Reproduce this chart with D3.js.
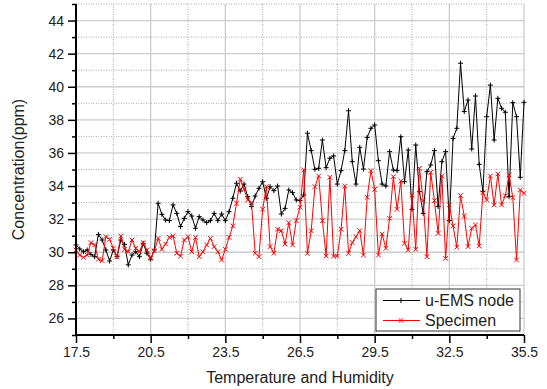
<!DOCTYPE html>
<html>
<head>
<meta charset="utf-8">
<script src="https://cdn.jsdelivr.net/npm/d3@7"></script>
<style>
	body { margin: 0; background: #fff; }
	text { font-family: "Liberation Sans", Arial, sans-serif; fill: #222; }
</style>
</head>
<body>
<svg id="svg" width="547" height="389"></svg>
<script>
"use strict";

// x positions: 17.5 -> 35.5, one reading every 0.15
const xStart = 17.5;
const xStep = 0.15;

const emsNode = [
	30.44, 30.2, 30.03, 30.14, 29.87, 29.73, 31.08, 30.74, 30.14, 29.47,
	30.14, 29.73, 30.74, 30.48, 29.24, 29.83, 30.03, 29.73, 30.54, 29.94,
	29.59, 30.14, 32.96, 32.29, 31.95, 31.91, 32.86, 32.35, 31.55, 32.05,
	32.45, 32.19, 31.45, 32.15, 31.95, 31.79, 31.91, 32.35, 31.91, 32.31,
	31.91, 32.45, 33.26, 34.17, 33.7, 34.12, 33.36, 32.76, 33.4, 33.86,
	34.26, 33.26, 33.96, 33.72, 34.0, 32.31, 32.65, 33.76, 33.6, 33.16,
	33.12, 33.46, 37.19, 36.14, 35.01, 35.07, 36.78, 35.11, 35.68, 35.82,
	34.12, 34.93, 36.14, 38.55, 35.47, 34.12, 36.34, 35.03, 36.94, 37.49,
	37.69, 35.53, 34.12, 34.0, 36.08, 34.97, 34.93, 36.98, 34.26, 36.18,
	32.59, 36.48, 33.66, 32.35, 34.87, 35.27, 36.14, 32.76, 35.47, 36.08,
	31.91, 36.88, 37.49, 41.42, 38.5, 39.2, 36.24, 39.44, 35.31, 33.66,
	38.19, 40.1, 36.78, 39.3, 38.7, 38.46, 33.36, 39.04, 38.19, 34.53,
	39.06
];

const specimen = [
	30.14, 29.83, 29.69, 29.83, 30.58, 30.44, 29.57, 29.49, 30.94, 30.78,
	30.24, 29.73, 30.98, 30.18, 30.03, 30.74, 30.24, 30.03, 30.58, 30.14,
	29.63, 30.09, 30.84, 30.18, 30.5, 30.9, 30.98, 29.94, 29.77, 30.74,
	30.94, 30.03, 30.9, 29.73, 30.03, 30.44, 30.84, 30.34, 30.03, 29.53,
	30.18, 30.9, 31.59, 32.96, 34.41, 33.8, 33.16, 33.0, 29.94, 29.73,
	32.6, 33.96, 30.34, 29.94, 31.39, 31.3, 30.5, 31.79, 30.44, 31.91,
	32.72, 34.97, 29.94, 31.3, 33.96, 34.61, 31.91, 29.77, 34.53, 29.77,
	29.77, 31.39, 34.0, 29.94, 30.58, 30.94, 31.3, 29.83, 33.32, 34.93,
	33.8, 29.83, 31.1, 30.24, 32.05, 34.57, 32.59, 34.3, 30.54, 30.14,
	33.46, 30.18, 35.07, 33.12, 29.73, 34.83, 33.12, 31.14, 34.61, 29.63,
	32.86, 31.59, 30.3, 33.42, 32.19, 30.34, 31.45, 31.65, 30.38, 33.6,
	33.16, 34.61, 32.86, 34.73, 32.86, 33.42, 34.67, 33.3, 29.53, 33.76,
	33.56
];

const xMajorTicks = [17.5, 20.5, 23.5, 26.5, 29.5, 32.5, 35.5];
const xMinorTicks = [19, 22, 25, 28, 31, 34];
const yMajorTicks = [26, 28, 30, 32, 34, 36, 38, 40, 42, 44];
const yMinorTicks = [25, 27, 29, 31, 33, 35, 37, 39, 41, 43, 45];

const seriesNames = ["u-EMS node", "Specimen"];
const seriesColors = ["#000000", "#ff0000"];

const margin = { top: 4, right: 23, bottom: 54, left: 76 };
const width = 547, height = 389;

const svg = d3.select("#svg");

const x = d3.scaleLinear().domain([17.5, 35.5]).range([margin.left, width - margin.right]);
const y = d3.scaleLinear().domain([25, 45]).range([height - margin.bottom, margin.top]);

// grid: dotted minor first, solid major on top
const grid = svg.append("g").attr("id", "grid");
grid.selectAll(".xminor").data(xMinorTicks).enter().append("line")
	.attr("x1", (d) => x(d)).attr("x2", (d) => x(d))
	.attr("y1", y(25)).attr("y2", y(45))
	.attr("stroke", "#a8a8a8").attr("stroke-dasharray", "1,1.5");
grid.selectAll(".yminor").data(yMinorTicks).enter().append("line")
	.attr("x1", x(17.5)).attr("x2", x(35.5))
	.attr("y1", (d) => y(d)).attr("y2", (d) => y(d))
	.attr("stroke", "#a8a8a8").attr("stroke-dasharray", "1,1.5");
grid.selectAll(".xmajor").data(xMajorTicks).enter().append("line")
	.attr("x1", (d) => x(d)).attr("x2", (d) => x(d))
	.attr("y1", y(25)).attr("y2", y(45))
	.attr("stroke", "#cccccc").attr("stroke-width", 1.3);
grid.selectAll(".ymajor").data(yMajorTicks).enter().append("line")
	.attr("x1", x(17.5)).attr("x2", x(35.5))
	.attr("y1", (d) => y(d)).attr("y2", (d) => y(d))
	.attr("stroke", "#cccccc").attr("stroke-width", 1.3);

// series
const line = d3.line()
	.x((d, i) => x(xStart + i * xStep))
	.y((d) => y(d));

function plusMarker() {
	return (sel) => {
		sel.append("line").attr("x1", -2.5).attr("x2", 2.5).attr("y1", 0).attr("y2", 0);
		sel.append("line").attr("x1", 0).attr("x2", 0).attr("y1", -2.5).attr("y2", 2.5);
	};
}
function crossMarker() {
	return (sel) => {
		sel.append("line").attr("x1", -2.3).attr("x2", 2.3).attr("y1", -2.3).attr("y2", 2.3);
		sel.append("line").attr("x1", -2.3).attr("x2", 2.3).attr("y1", 2.3).attr("y2", -2.3);
	};
}

[emsNode, specimen].forEach((data, k) => {
	const g = svg.append("g").attr("class", "series");
	g.append("path")
		.datum(data)
		.attr("d", line)
		.attr("fill", "none")
		.attr("stroke", seriesColors[k])
		.attr("stroke-width", 1);
	g.selectAll(".mk").data(data).enter().append("g")
		.attr("class", "mk")
		.attr("transform", (d, i) => `translate(${x(xStart + i * xStep)},${y(d)})`)
		.attr("stroke", seriesColors[k])
		.attr("stroke-width", 1)
		.call(k === 0 ? plusMarker() : crossMarker());
});

// axes (major ticks with labels, minor ticks without)
const xAxis = svg.append("g")
	.attr("transform", `translate(0,${y(25)})`)
	.call(d3.axisBottom(x).tickValues(xMajorTicks).tickSize(8).tickPadding(4)
		.tickFormat(d3.format(".1f")));
svg.append("g")
	.attr("transform", `translate(0,${y(25)})`)
	.call(d3.axisBottom(x).tickValues(xMinorTicks).tickSize(4).tickFormat(""))
	.call((g) => g.select(".domain").remove());

const yAxis = svg.append("g")
	.attr("transform", `translate(${x(17.5)},0)`)
	.call(d3.axisLeft(y).tickValues(yMajorTicks).tickSize(8).tickPadding(4));
svg.append("g")
	.attr("transform", `translate(${x(17.5)},0)`)
	.call(d3.axisLeft(y).tickValues(yMinorTicks).tickSize(4).tickFormat(""))
	.call((g) => g.select(".domain").remove());

svg.selectAll(".domain").attr("stroke", "#000").attr("stroke-width", 2);
svg.selectAll(".tick line").attr("stroke", "#000").attr("stroke-width", 1.5);
svg.selectAll(".tick text").attr("font-size", "14px").attr("fill", "#222")
	.style("font-family", "'Liberation Sans', Arial, sans-serif");
// domains without end caps
xAxis.select(".domain").attr("d", `M${x(17.5)},0H${x(35.5)}`);
yAxis.select(".domain").attr("d", `M0,${y(25)}V${y(45)}`);

// axis titles
svg.append("text")
	.attr("x", (margin.left + width - margin.right) / 2)
	.attr("y", 383)
	.attr("text-anchor", "middle")
	.attr("font-size", "16px")
	.text("Temperature and Humidity");
svg.append("text")
	.attr("transform", `translate(24,${(y(25) + y(45)) / 2}) rotate(-90)`)
	.attr("text-anchor", "middle")
	.attr("font-size", "16px")
	.text("Concentration(ppm)");

// legend
const legend = svg.append("g").attr("transform", "translate(376,289)");
legend.append("rect")
	.attr("width", 144).attr("height", 42)
	.attr("fill", "#fff").attr("stroke", "#333").attr("stroke-width", 1);
seriesNames.forEach((name, k) => {
	const row = legend.append("g").attr("transform", `translate(0,${11.5 + k * 20})`);
	row.append("line")
		.attr("x1", 7).attr("x2", 44)
		.attr("stroke", seriesColors[k]).attr("stroke-width", 1);
	row.append("g")
		.attr("transform", "translate(25,0)")
		.attr("stroke", seriesColors[k])
		.call(k === 0 ? plusMarker() : crossMarker());
	row.append("text")
		.attr("x", 49).attr("y", 5.5)
		.attr("font-size", "16px")
		.text(name);
});
</script>
</body>
</html>
